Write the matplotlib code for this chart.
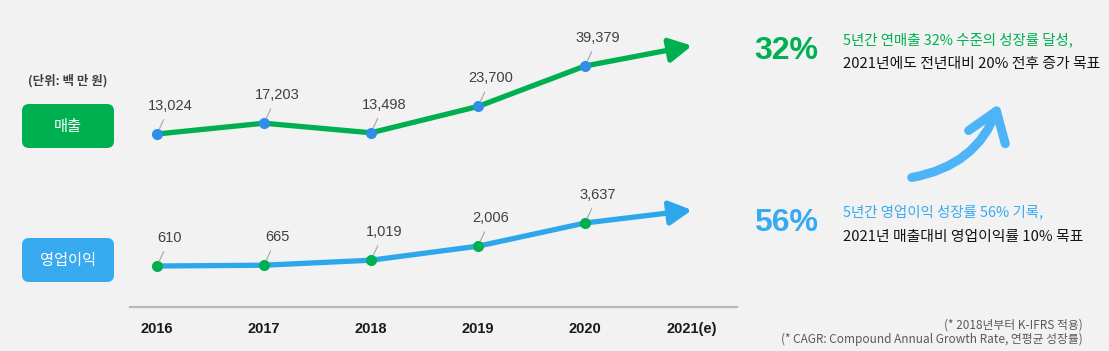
import matplotlib
matplotlib.use("Agg")
import matplotlib.pyplot as plt
from matplotlib.patches import FancyBboxPatch, FancyArrowPatch
from matplotlib import font_manager

# ---------------- data ----------------
years = [2016, 2017, 2018, 2019, 2020]
year_labels = ["2016", "2017", "2018", "2019", "2020", "2021(e)"]
sales = [13024, 17203, 13498, 23700, 39379]          # 매출 (백만원)
profit = [610, 665, 1019, 2006, 3637]                 # 영업이익 (백만원)
target_year = 2021
sales_target = 39379 * 1.20      # ~20% growth target
profit_target = 3637 * 1.25      # estimated arrow end
unit_label = "(단위: 백 만 원)"
series_names = ["매출", "영업이익"]
cagr_labels = ["32%", "56%"]
desc_sales = ["5년간 연매출 32% 수준의 성장률 달성,", "2021년에도 전년대비 20% 전후 증가 목표"]
desc_profit = ["5년간 영업이익 성장률 56% 기록,", "2021년 매출대비 영업이익률 10% 목표"]
footnotes = ["(* 2018년부터 K-IFRS 적용)", "(* CAGR: Compound Annual Growth Rate, 연평균 성장률)"]

# ---------------- style ----------------
BG = "#f2f2f2"
GREEN = "#00b050"
BLUE_LINE = "#2ea6ea"
BLUE_MARK = "#2f8fe8"
BLUE_BOX = "#38aaf0"
BLUE_ARROW = "#4db5f7"
DARK = "#141414"
LABEL = "#404040"
KR = ["Noto Sans CJK KR", "DejaVu Sans"]
avail = {f.name for f in font_manager.fontManager.ttflist}
LAT = "Liberation Sans" if "Liberation Sans" in avail else "DejaVu Sans"
NARROW = "Liberation Sans Narrow" if "Liberation Sans Narrow" in avail else LAT

W, H = 1109, 351
fig = plt.figure(figsize=(W / 100, H / 100), dpi=100, facecolor=BG)

# overlay in pixel coords
ov = fig.add_axes([0, 0, 1, 1], zorder=0)
ov.set_xlim(0, W)
ov.set_ylim(H, 0)
ov.axis("off")
ov.patch.set_alpha(0)

# main axes: x from px 130 to 737, bottom at px 307, top at px 30
L, R, B, T = 130, 737, 307, 30
ax = fig.add_axes([L / W, (H - B) / H, (R - L) / W, (B - T) / H], zorder=2)
ax.patch.set_alpha(0)
x0 = 2016 - (157 - L) / 107.0
x1 = 2016 + (R - 157) / 107.0
ax.set_xlim(x0, x1)
ax.set_yticks([])
for s in ["top", "left", "right"]:
    ax.spines[s].set_visible(False)
ax.spines["bottom"].set_color("#b8b8b8")
ax.spines["bottom"].set_linewidth(1.6)
ax.set_xticks(years + [target_year])
ax.set_xticklabels(year_labels, fontfamily=NARROW, fontweight="bold", fontsize=10.5, color="#1a1a1a")
ax.tick_params(axis="x", length=0, pad=11)

def px_limits(v_ref, px_ref, px_per_unit):
    lo = v_ref - (B - px_ref) / px_per_unit
    hi = v_ref + (px_ref - T) / px_per_unit
    return lo, hi

ax_s = ax.twinx()
ax_s.set_ylim(*px_limits(sales[0], 134, 0.00258))
ax_s.axis("off")
ax_p = ax.twinx()
ax_p.set_ylim(*px_limits(profit[0], 266, 0.0142))
ax_p.axis("off")

def draw_series(a, ys, target, line_color, mark_color):
    a.plot(years, ys, color=line_color, lw=3.8, solid_capstyle="butt", solid_joinstyle="miter", zorder=2, clip_on=False)
    a.annotate("", xy=(target_year, target), xytext=(years[-1], ys[-1]),
               arrowprops=dict(arrowstyle="-|>,head_length=0.75,head_width=0.4", color=line_color, lw=3.8,
                               shrinkA=0, shrinkB=0, mutation_scale=18), annotation_clip=False)
    a.scatter(years, ys, s=64, color=mark_color, zorder=3, clip_on=False, linewidths=0)
    for x, y in zip(years, ys):
        a.annotate(f"{y:,}", xy=(x, y), xytext=(13, 28), textcoords="offset pixels",
                   ha="center", va="center", fontsize=10.5, color=LABEL, fontfamily=LAT,
                   arrowprops=dict(arrowstyle="-", color="#a6a6a6", lw=0.8, shrinkA=3, shrinkB=4),
                   annotation_clip=False, zorder=4)

draw_series(ax_s, sales, sales_target, GREEN, BLUE_MARK)
draw_series(ax_p, profit, profit_target, BLUE_LINE, GREEN)

# unit label
ov.text(68, 81, unit_label, ha="center", va="center", fontsize=9, fontweight="bold", color=LABEL, family=KR)

# left boxes
for (yt, yb), name, col in [((104, 148), series_names[0], GREEN), ((238, 282), series_names[1], BLUE_BOX)]:
    box = FancyBboxPatch((22, yt), 92, yb - yt, boxstyle="round,pad=0,rounding_size=7",
                         facecolor=col, edgecolor="none")
    ov.add_patch(box)
    ov.text(68, (yt + yb) / 2, name, ha="center", va="center", fontsize=11, color="white", family=KR)

# right side big percentages
ov.text(786, 51, cagr_labels[0], ha="center", va="center", fontsize=23, fontweight="bold", color=GREEN, family=LAT)
ov.text(786, 223, cagr_labels[1], ha="center", va="center", fontsize=23, fontweight="bold", color=BLUE_BOX, family=LAT)

ov.text(843, 40, desc_sales[0], ha="left", va="center", fontsize=10.4, color=GREEN, family=KR)
ov.text(843, 64, desc_sales[1], ha="left", va="center", fontsize=10.7, color=DARK, family=KR)
ov.text(843, 212, desc_profit[0], ha="left", va="center", fontsize=10.4, color=BLUE_BOX, family=KR)
ov.text(843, 237, desc_profit[1], ha="left", va="center", fontsize=10.7, color=DARK, family=KR)

# curved arrow
arr = FancyArrowPatch((909, 178), (1000, 101), connectionstyle="arc3,rad=0.3",
                      arrowstyle="->,head_length=0.5,head_width=0.35", mutation_scale=40,
                      color=BLUE_ARROW, lw=6.5, capstyle="round", joinstyle="round")
ov.add_patch(arr)

# footnotes
ov.text(1083, 325, footnotes[0], ha="right", va="center", fontsize=8.5, color="#595959", family=KR)
ov.text(1083, 339, footnotes[1], ha="right", va="center", fontsize=8.5, color="#595959", family=KR)

fig.savefig("out.png", dpi=100, facecolor=BG)
